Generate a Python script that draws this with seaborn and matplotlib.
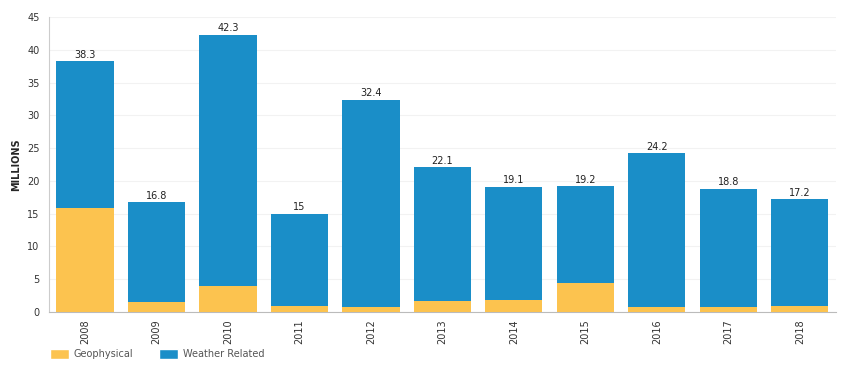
import pandas as pd
import seaborn as sns
import matplotlib.pyplot as plt
from matplotlib.patches import Patch

# Data (millions of people displaced)
years = ["2008", "2009", "2010", "2011", "2012", "2013", "2014", "2015", "2016", "2017", "2018"]
totals = [38.3, 16.8, 42.3, 15, 32.4, 22.1, 19.1, 19.2, 24.2, 18.8, 17.2]
geophysical = [15.8, 1.5, 3.9, 1.0, 0.7, 1.7, 1.8, 4.5, 0.7, 0.8, 1.0]
total_labels = ["38.3", "16.8", "42.3", "15", "32.4", "22.1", "19.1", "19.2", "24.2", "18.8", "17.2"]

df = pd.DataFrame({"year": years, "total": totals, "geophysical": geophysical})

sns.set_style("white")
plt.rcParams["font.family"] = ["DejaVu Sans"]

yellow = "#FCC34F"
blue = "#1A8EC8"

fig = plt.figure(figsize=(8.5, 3.68), dpi=100)
ax = fig.add_axes([0.058, 0.152, 0.925, 0.802])

# Stacked bars: total (weather on top) drawn first, geophysical over it
sns.barplot(data=df, x="year", y="total", color=blue, width=0.8,
            saturation=1, linewidth=0, edgecolor="none", ax=ax, zorder=2)
sns.barplot(data=df, x="year", y="geophysical", color=yellow, width=0.8,
            saturation=1, linewidth=0, edgecolor="none", ax=ax, zorder=3)

# Total labels above bars
for i, (v, lab) in enumerate(zip(totals, total_labels)):
    ax.text(i, v + 0.2, lab, ha="center", va="bottom", fontsize=7, color="#222222")

ax.set_ylim(0, 45)
ax.set_xlim(-0.5, len(years) - 0.5)
ax.set_yticks(range(0, 46, 5))
ax.yaxis.grid(True, color="#f2f2f2", linewidth=0.8, zorder=0)
ax.set_axisbelow(True)

ax.set_xlabel("")
ax.set_ylabel("MILLIONS", fontsize=7, fontweight="bold", labelpad=4)

ax.tick_params(axis="y", labelsize=7, length=4, color="#cccccc", labelcolor="#333333", pad=3)
ax.tick_params(axis="x", which="major", labelsize=7, length=0, labelrotation=90,
               labelcolor="#333333", pad=5)
ax.set_xticks([i - 0.5 for i in range(len(years) + 1)], minor=True)
ax.tick_params(axis="x", which="minor", length=4, color="#cccccc")

for s in ["top", "right"]:
    ax.spines[s].set_visible(False)
ax.spines["left"].set_color("#cccccc")
ax.spines["bottom"].set_color("#bbbbbb")
ax.spines["left"].set_linewidth(0.8)
ax.spines["bottom"].set_linewidth(0.8)

handles = [Patch(facecolor=yellow, label="Geophysical"),
           Patch(facecolor=blue, label="Weather Related")]
leg = fig.legend(handles=handles, loc="lower left", bbox_to_anchor=(0.048, 0.0), ncol=2,
                 frameon=False, fontsize=7, handlelength=2.0, handleheight=1.1,
                 columnspacing=2.6, handletextpad=0.5)
for t in leg.get_texts():
    t.set_color("#555555")

fig.savefig("out.png", dpi=100)
